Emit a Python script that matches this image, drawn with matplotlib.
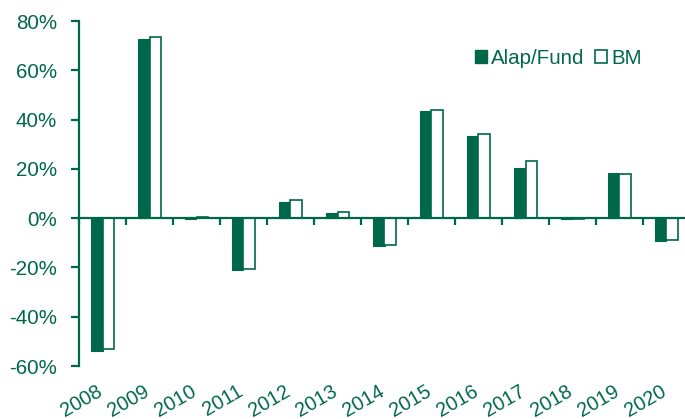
import matplotlib
matplotlib.use("Agg")
import matplotlib.pyplot as plt
import numpy as np
from matplotlib.patches import Patch
import matplotlib.transforms as mtransforms

years = ["2008", "2009", "2010", "2011", "2012", "2013", "2014",
         "2015", "2016", "2017", "2018", "2019", "2020"]
fund = [-53.8, 72.7, -0.3, -21.0, 6.7, 2.2, -11.4, 43.3, 33.2, 20.2, -0.4, 18.3, -9.2]
bm = [-53.2, 73.5, 0.5, -20.5, 7.2, 2.5, -10.8, 44.0, 34.0, 23.2, -0.3, 18.0, -8.8]
yticks = [-60, -40, -20, 0, 20, 40, 60, 80]

GREEN = "#00684A"
plt.rcParams['font.family'] = ['Liberation Sans', 'DejaVu Sans']

fig = plt.figure(figsize=(6.85, 4.19), dpi=100)
left = 79 / 685
bottom = (419 - 366) / 419
top = (419 - 21) / 419
width = 13 * 47 / 685
ax = fig.add_axes([left, bottom, width, top - bottom])

x = np.arange(len(years))
w = 0.235
ax.bar(x - w / 2, fund, width=w, color=GREEN, edgecolor=GREEN, linewidth=0.8, label="Alap/Fund")
ax.bar(x + w / 2, bm, width=w, color="white", edgecolor=GREEN, linewidth=1.2, label="BM")

ax.set_xlim(-0.5, len(years) - 0.5)
ax.set_ylim(-60, 80)
ax.set_yticks(yticks)
ax.set_yticklabels([f"{v}%" for v in yticks])

for s in ["top", "right"]:
    ax.spines[s].set_visible(False)
ax.spines["bottom"].set_position(("data", 0))
ax.spines["bottom"].set_color(GREEN)
ax.spines["bottom"].set_linewidth(1.6)
ax.spines["left"].set_color(GREEN)
ax.spines["left"].set_linewidth(1.6)

ax.tick_params(axis="y", direction="out", length=6, width=1.6, color=GREEN,
               labelcolor=GREEN, labelsize=14.8, pad=10)
ax.set_xticks(np.arange(len(years) + 1) - 0.5)
ax.set_xticklabels([])
ax.tick_params(axis="x", direction="out", length=5, width=1.6, color=GREEN)

trans = mtransforms.blended_transform_factory(ax.transData, ax.transAxes)
for xi, yl in zip(x, years):
    ax.text(xi - 0.14, -0.045, yl, transform=trans, rotation=30, rotation_mode="anchor",
            ha="right", va="top", fontsize=14.4, color=GREEN)

handles = [Patch(facecolor=GREEN, edgecolor=GREEN, linewidth=1.0),
           Patch(facecolor="white", edgecolor=GREEN, linewidth=1.2)]
leg = ax.legend(handles, ["Alap/Fund", "BM"], ncol=2, frameon=False,
                loc="center right", bbox_to_anchor=(642 / 685, 1 - 58 / 419),
                bbox_transform=fig.transFigure, borderpad=0, borderaxespad=0,
                handlelength=0.6, handleheight=0.6, handletextpad=0.2,
                columnspacing=0.5, fontsize=14.8)
for t in leg.get_texts():
    t.set_color(GREEN)

fig.savefig("out.png", dpi=100)
